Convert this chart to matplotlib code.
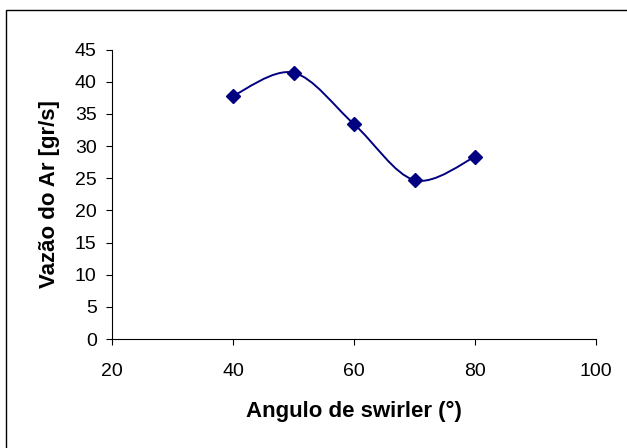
import matplotlib
matplotlib.use("Agg")
import matplotlib.pyplot as plt
from matplotlib.path import Path
from matplotlib.patches import PathPatch, Rectangle
import numpy as np

plt.rcParams['font.family'] = ['Liberation Sans', 'DejaVu Sans']

# data
angulo = [40, 50, 60, 70, 80]
vazao = [37.8, 41.4, 33.4, 24.7, 28.3]

x_ticks = [20, 40, 60, 80, 100]
y_ticks = [0, 5, 10, 15, 20, 25, 30, 35, 40, 45]

fig = plt.figure(figsize=(6.27, 4.48), dpi=100)
ax = fig.add_axes([112 / 627, 1 - 339 / 448, 484 / 627, 289.5 / 448])

# excel style smoothed line (bezier through the points)
pts = np.column_stack([angulo, vazao])
verts = [pts[0]]
codes = [Path.MOVETO]
n = len(pts)
for i in range(n - 1):
    p0 = pts[i - 1] if i > 0 else pts[i]
    p1 = pts[i]
    p2 = pts[i + 1]
    p3 = pts[i + 2] if i + 2 < n else pts[i + 1]
    c1 = p1 + (p2 - p0) / 6
    c2 = p2 - (p3 - p1) / 6
    verts += [c1, c2, p2]
    codes += [Path.CURVE4] * 3
ax.add_patch(PathPatch(Path(verts, codes), fill=False, edgecolor='#000080', lw=1.4))

ax.plot(angulo, vazao, linestyle='none', marker='D', ms=7, color='#000080')

ax.set_xlim(20, 100)
ax.set_ylim(0, 45)
ax.set_xticks(x_ticks)
ax.set_yticks(y_ticks)
ax.spines['top'].set_visible(False)
ax.spines['right'].set_visible(False)
for s in ['left', 'bottom']:
    ax.spines[s].set_linewidth(0.8)
ax.tick_params(direction='out', length=4, width=0.8, labelsize=14)
ax.tick_params(axis='y', pad=7)
ax.tick_params(axis='x', pad=13)

ax.set_xlabel('Angulo de swirler (°)', fontsize=16, fontweight='bold', labelpad=15)
ax.set_ylabel('Vazão do Ar [gr/s]', fontsize=16, fontweight='bold', labelpad=11)

# outer chart border
fig.patches.append(Rectangle((6 / 627, -0.05), 1.1, 1 - 10 / 448 + 0.05,
                             transform=fig.transFigure, fill=False,
                             edgecolor='black', lw=1))

fig.savefig('out.png', dpi=100)
